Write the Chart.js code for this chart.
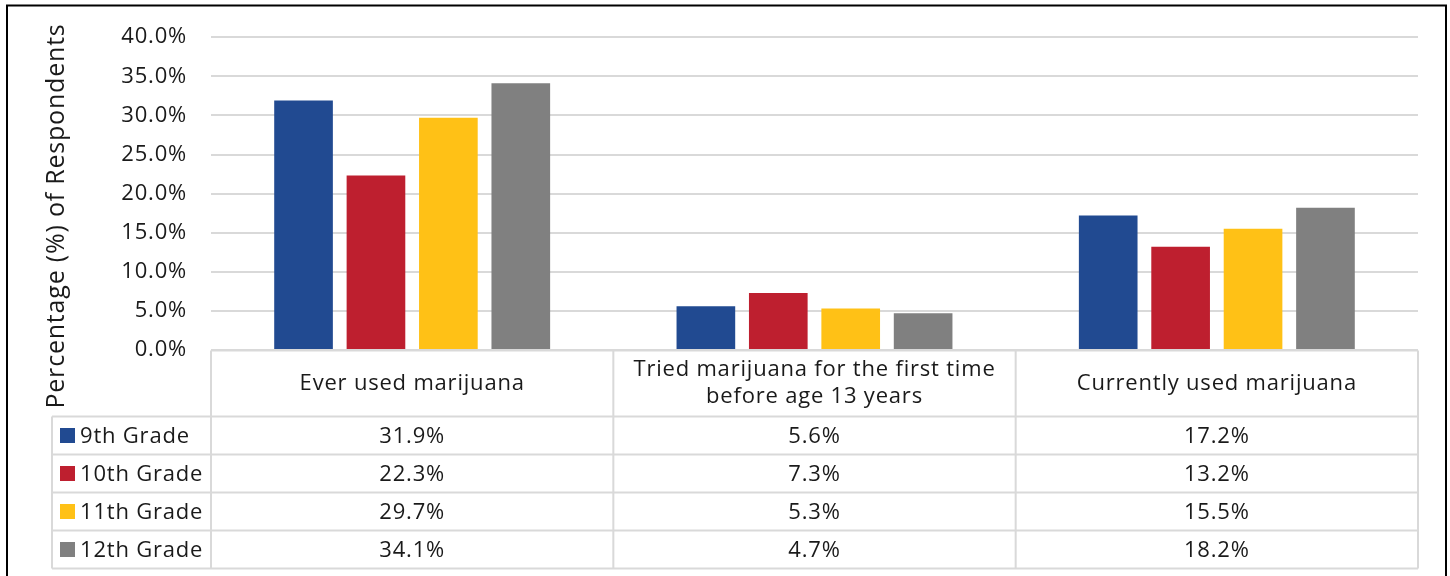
<!DOCTYPE html>
<html>
<head>
<meta charset="utf-8">
<script src="https://cdn.jsdelivr.net/npm/chart.js@4.4.1/dist/chart.umd.min.js"></script>
<style>
  html, body { margin: 0; padding: 0; background: #ffffff; }
  #wrap { width: 1450px; height: 576px; position: relative; }
</style>
</head>
<body>
<div id="wrap"><canvas id="chart" width="1450" height="576"></canvas></div>
<script>
// Categories (multi-line labels are arrays) and grade series, in percent
const categories = [
  ['Ever used marijuana'],
  ['Tried marijuana for the first time', 'before age 13 years'],
  ['Currently used marijuana']
];
const seriesNames = ['9th Grade', '10th Grade', '11th Grade', '12th Grade'];
const grade9  = [31.9, 5.6, 17.2];
const grade10 = [22.3, 7.3, 13.2];
const grade11 = [29.7, 5.3, 15.5];
const grade12 = [34.1, 4.7, 18.2];
const seriesColors = ['#214A91', '#BE1F2F', '#FFC116', '#808080'];
const yTicks = [0, 5, 10, 15, 20, 25, 30, 35, 40];
const yTitle = 'Percentage (%) of Respondents';

const FONT = '"Open Sans", "Noto Sans", sans-serif';
const TEXT = '#1a1a1a';
const LINE = '#d9d9d9';
const seriesValues = [grade9, grade10, grade11, grade12];

// Slightly open tracking for all canvas text
const trackingPlugin = {
  id: 'tracking',
  beforeDraw(chart) { chart.ctx.letterSpacing = '0.8px'; }
};

// Draws the black frame, the rotated axis title and the data table under the plot
const tablePlugin = {
  id: 'dataTable',
  afterDraw(chart) {
    const ctx = chart.ctx;
    const x = chart.scales.x;
    const y = chart.scales.y;
    const n = categories.length;
    const colW = (x.right - x.left) / n;
    const top = Math.round(y.getPixelForValue(0)) + 0.5;
    const headerH = 66;
    const rowH = 38;
    const legendLeft = 52;
    const rowTops = seriesNames.map((_, i) => top + headerH + i * rowH);
    const bottom = top + headerH + seriesNames.length * rowH;

    ctx.save();
    // table grid
    ctx.strokeStyle = LINE;
    ctx.lineWidth = 2;
    ctx.beginPath();
    ctx.moveTo(x.left, top); ctx.lineTo(x.right, top);
    rowTops.concat([bottom]).forEach(ry => { ctx.moveTo(legendLeft, ry); ctx.lineTo(x.right, ry); });
    for (let i = 0; i <= n; i++) {
      const cx = x.left + i * colW;
      ctx.moveTo(cx, top); ctx.lineTo(cx, bottom);
    }
    ctx.moveTo(legendLeft, rowTops[0]); ctx.lineTo(legendLeft, bottom);
    ctx.stroke();

    // header labels
    ctx.fillStyle = TEXT;
    ctx.font = '22px ' + FONT;
    ctx.textAlign = 'center';
    ctx.textBaseline = 'middle';
    categories.forEach((lines, i) => {
      const cx = x.getPixelForValue(i);
      const lh = 27;
      const cy = top + headerH / 2 - (lines.length - 1) * lh / 2;
      lines.forEach((t, k) => ctx.fillText(t, cx, cy + k * lh));
    });

    // rows: legend key + values
    seriesNames.forEach((name, r) => {
      const cy = rowTops[r] + rowH / 2;
      ctx.fillStyle = seriesColors[r];
      ctx.fillRect(60, cy - 7.5, 15, 15);
      ctx.fillStyle = TEXT;
      ctx.textAlign = 'left';
      ctx.fillText(name, 80, cy + 1);
      ctx.textAlign = 'center';
      seriesValues[r].forEach((v, i) => {
        ctx.fillText(v.toFixed(1) + '%', x.getPixelForValue(i), cy + 1);
      });
    });

    // rotated axis title
    ctx.save();
    ctx.translate(57, 216);
    ctx.rotate(-Math.PI / 2);
    ctx.textAlign = 'center';
    ctx.fillStyle = TEXT;
    ctx.font = '25px ' + FONT;
    ctx.fillText(yTitle, 0, 0);
    ctx.restore();

    // outer frame
    ctx.strokeStyle = '#000000';
    ctx.lineWidth = 2;
    ctx.strokeRect(7, 5.5, 1439, 600);
    ctx.restore();
  }
};

new Chart(document.getElementById('chart'), {
  type: 'bar',
  data: {
    labels: categories,
    datasets: seriesNames.map((name, i) => ({
      label: name,
      data: seriesValues[i],
      backgroundColor: seriesColors[i],
      borderWidth: 0,
      categoryPercentage: 0.72,
      barPercentage: 0.81
    }))
  },
  options: {
    responsive: false,
    animation: false,
    devicePixelRatio: 1,
    layout: { padding: { top: 34, right: 32, bottom: 226, left: 0 } },
    plugins: { legend: { display: false }, tooltip: { enabled: false }, title: { display: false } },
    scales: {
      x: { display: false },
      y: {
        min: 0,
        max: 40,
        afterFit(scale) { scale.width = 211; },
        afterBuildTicks(scale) { scale.ticks = yTicks.map(v => ({ value: v })); },
        border: { display: false },
        grid: { color: LINE, lineWidth: 2, drawTicks: false },
        ticks: {
          padding: 24,
          color: TEXT,
          font: { family: FONT, size: 22 },
          callback: v => v.toFixed(1) + '%'
        }
      }
    }
  },
  plugins: [trackingPlugin, tablePlugin]
});
</script>
</body>
</html>
